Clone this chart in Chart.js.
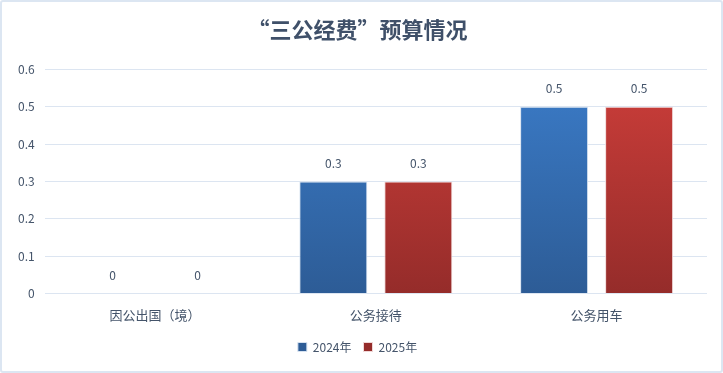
<!DOCTYPE html>
<html lang="zh">
<head>
    <title>三公经费预算情况</title>
    <meta charset="utf-8">
    <script src="https://cdn.jsdelivr.net/npm/chart.js@4.4.1/dist/chart.umd.min.js"></script>
    <style>
        body { margin: 0; background: #fff; }
        .box {
            width: 723px; height: 373px; box-sizing: border-box;
            border: 2px solid #dce6f2; border-radius: 3px; background: #fff;
        }
    </style>
</head>
<body>
<div class="box">
    <canvas id="bar-chart" width="719" height="369"></canvas>
</div>

<script>
var categories = ["因公出国（境）", "公务接待", "公务用车"];
var values2024 = [0, 0.3, 0.5];
var values2025 = [0, 0.3, 0.5];
var seriesNames = ["2024年", "2025年"];

var textColor = "#44546a";
var font = "'Noto Sans CJK SC', 'Noto Sans', sans-serif";

function barGradient(top, bottom) {
  return function(ctx) {
    var area = ctx.chart.chartArea;
    if (!area) return top;
    var g = ctx.chart.ctx.createLinearGradient(0, area.top, 0, area.bottom);
    g.addColorStop(0, top);
    g.addColorStop(1, bottom);
    return g;
  };
}

// value labels above each bar
var valueLabels = {
  id: "valueLabels",
  afterDatasetsDraw: function(chart) {
    var c = chart.ctx;
    c.save();
    c.fillStyle = textColor;
    c.font = "12px " + font;
    c.textAlign = "center";
    c.textBaseline = "bottom";
    chart.data.datasets.forEach(function(ds, i) {
      chart.getDatasetMeta(i).data.forEach(function(bar, j) {
        c.fillText(String(ds.data[j]), bar.x, bar.y - 12);
      });
    });
    c.restore();
  }
};

new Chart(document.getElementById("bar-chart"), {
  type: "bar",
  data: {
    labels: categories,
    datasets: [{
      label: seriesNames[0],
      data: values2024,
      backgroundColor: barGradient("#3b7cc9", "#2d5c96"),
      borderColor: "#d6e2f0",
      borderWidth: 1
    }, {
      label: seriesNames[1],
      data: values2025,
      backgroundColor: barGradient("#cd3e3a", "#952c2a"),
      borderColor: "#f0d8d8",
      borderWidth: 1
    }]
  },
  options: {
    responsive: false,
    animation: false,
    layout: { padding: { left: 6, right: 14, top: 0, bottom: 8 } },
    datasets: { bar: { categoryPercentage: 0.77, barPercentage: 0.8 } },
    plugins: {
      title: {
        display: true,
        text: "“三公经费”预算情况",
        color: "#3f5069",
        font: { family: font, size: 22, weight: "bold" },
        padding: { top: 14, bottom: 27 }
      },
      legend: {
        position: "bottom",
        labels: {
          color: textColor,
          font: { family: font, size: 12 },
          boxWidth: 9, boxHeight: 9,
          padding: 12
        }
      },
      tooltip: { enabled: false }
    },
    scales: {
      x: {
        grid: { display: false },
        border: { display: false },
        ticks: { color: textColor, font: { family: font, size: 13 }, padding: 6 }
      },
      y: {
        min: 0, max: 0.6,
        ticks: { stepSize: 0.1, color: textColor, font: { family: font, size: 12 }, padding: 10 },
        grid: { color: "#dce5f1", drawTicks: false },
        border: { display: false }
      }
    }
  },
  plugins: [valueLabels]
});
</script>
</body>
</html>
